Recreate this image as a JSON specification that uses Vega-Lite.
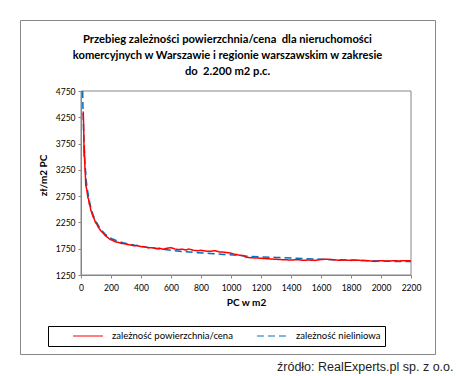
{
  "$schema": "https://vega.github.io/schema/vega-lite/v6.json",
  "width": 415,
  "height": 334,
  "autosize": "none",
  "padding": {"left": 20, "top": 20, "right": 21, "bottom": 22},
  "background": "white",
  "title": {
    "text": ["Przebieg zależności powierzchnia/cena\u00a0 dla nieruchomości", "komercyjnych w Warszawie i regionie warszawskim w zakresie", "do\u00a0 2.200 m2 p.c."],
    "orient": "top",
    "anchor": "middle",
    "frame": "group",
    "offset": -66,
    "baseline": "alphabetic",
    "font": "Lato",
    "fontSize": 11.2,
    "fontWeight": "bold",
    "lineHeight": 16,
    "color": "#000000"
  },
  "config": {
    "view": {"stroke": "#888888", "strokeWidth": 1},
    "axis": {"grid": false, "domainColor": "#868686", "tickColor": "#868686", "labelFont": "Lato", "labelFontSize": 8.5, "labelColor": "#000000", "titleFont": "Lato", "titleFontSize": 10, "titleFontWeight": "bold", "titleColor": "#000000"}
  },
  "datasets": {
    "lines": [
      {"series": "zależność nieliniowa", "x": 11, "y": 4750},
      {"series": "zależność nieliniowa", "x": 13, "y": 4450},
      {"series": "zależność nieliniowa", "x": 15, "y": 4250},
      {"series": "zależność nieliniowa", "x": 18, "y": 3950},
      {"series": "zależność nieliniowa", "x": 21, "y": 3700},
      {"series": "zależność nieliniowa", "x": 25, "y": 3450},
      {"series": "zależność nieliniowa", "x": 30, "y": 3250},
      {"series": "zależność nieliniowa", "x": 35, "y": 3050},
      {"series": "zależność nieliniowa", "x": 40, "y": 2920},
      {"series": "zależność nieliniowa", "x": 50, "y": 2750},
      {"series": "zależność nieliniowa", "x": 60, "y": 2600},
      {"series": "zależność nieliniowa", "x": 70, "y": 2480},
      {"series": "zależność nieliniowa", "x": 85, "y": 2360},
      {"series": "zależność nieliniowa", "x": 100, "y": 2270},
      {"series": "zależność nieliniowa", "x": 120, "y": 2170},
      {"series": "zależność nieliniowa", "x": 140, "y": 2090},
      {"series": "zależność nieliniowa", "x": 160, "y": 2030},
      {"series": "zależność nieliniowa", "x": 185, "y": 1975},
      {"series": "zależność nieliniowa", "x": 210, "y": 1935},
      {"series": "zależność nieliniowa", "x": 240, "y": 1900},
      {"series": "zależność nieliniowa", "x": 280, "y": 1865},
      {"series": "zależność nieliniowa", "x": 320, "y": 1838},
      {"series": "zależność nieliniowa", "x": 360, "y": 1815},
      {"series": "zależność nieliniowa", "x": 400, "y": 1795},
      {"series": "zależność nieliniowa", "x": 450, "y": 1775},
      {"series": "zależność nieliniowa", "x": 500, "y": 1755},
      {"series": "zależność nieliniowa", "x": 560, "y": 1735},
      {"series": "zależność nieliniowa", "x": 620, "y": 1712},
      {"series": "zależność nieliniowa", "x": 700, "y": 1692},
      {"series": "zależność nieliniowa", "x": 780, "y": 1675},
      {"series": "zależność nieliniowa", "x": 860, "y": 1660},
      {"series": "zależność nieliniowa", "x": 950, "y": 1640},
      {"series": "zależność nieliniowa", "x": 1040, "y": 1625},
      {"series": "zależność nieliniowa", "x": 1120, "y": 1605},
      {"series": "zależność nieliniowa", "x": 1200, "y": 1595},
      {"series": "zależność nieliniowa", "x": 1300, "y": 1585},
      {"series": "zależność nieliniowa", "x": 1400, "y": 1572},
      {"series": "zależność nieliniowa", "x": 1500, "y": 1560},
      {"series": "zależność nieliniowa", "x": 1600, "y": 1550},
      {"series": "zależność nieliniowa", "x": 1700, "y": 1540},
      {"series": "zależność nieliniowa", "x": 1800, "y": 1533},
      {"series": "zależność nieliniowa", "x": 1900, "y": 1525},
      {"series": "zależność nieliniowa", "x": 2000, "y": 1515},
      {"series": "zależność nieliniowa", "x": 2100, "y": 1508},
      {"series": "zależność nieliniowa", "x": 2200, "y": 1505},
      {"series": "zależność powierzchnia/cena", "x": 15, "y": 4360},
      {"series": "zależność powierzchnia/cena", "x": 17, "y": 4150},
      {"series": "zależność powierzchnia/cena", "x": 19, "y": 3900},
      {"series": "zależność powierzchnia/cena", "x": 20, "y": 3500},
      {"series": "zależność powierzchnia/cena", "x": 22, "y": 3720},
      {"series": "zależność powierzchnia/cena", "x": 24, "y": 3450},
      {"series": "zależność powierzchnia/cena", "x": 27, "y": 3250},
      {"series": "zależność powierzchnia/cena", "x": 29, "y": 3150},
      {"series": "zależność powierzchnia/cena", "x": 32, "y": 2950},
      {"series": "zależność powierzchnia/cena", "x": 35, "y": 2920},
      {"series": "zależność powierzchnia/cena", "x": 38, "y": 2880},
      {"series": "zależność powierzchnia/cena", "x": 42, "y": 2800},
      {"series": "zależność powierzchnia/cena", "x": 46, "y": 2720},
      {"series": "zależność powierzchnia/cena", "x": 50, "y": 2700},
      {"series": "zależność powierzchnia/cena", "x": 55, "y": 2600},
      {"series": "zależność powierzchnia/cena", "x": 60, "y": 2570},
      {"series": "zależność powierzchnia/cena", "x": 65, "y": 2490},
      {"series": "zależność powierzchnia/cena", "x": 72, "y": 2430},
      {"series": "zależność powierzchnia/cena", "x": 80, "y": 2360},
      {"series": "zależność powierzchnia/cena", "x": 88, "y": 2320},
      {"series": "zależność powierzchnia/cena", "x": 96, "y": 2250},
      {"series": "zależność powierzchnia/cena", "x": 105, "y": 2220},
      {"series": "zależność powierzchnia/cena", "x": 115, "y": 2160},
      {"series": "zależność powierzchnia/cena", "x": 125, "y": 2120},
      {"series": "zależność powierzchnia/cena", "x": 135, "y": 2080},
      {"series": "zależność powierzchnia/cena", "x": 150, "y": 2040},
      {"series": "zależność powierzchnia/cena", "x": 165, "y": 1990},
      {"series": "zależność powierzchnia/cena", "x": 180, "y": 1960},
      {"series": "zależność powierzchnia/cena", "x": 195, "y": 1925},
      {"series": "zależność powierzchnia/cena", "x": 210, "y": 1910},
      {"series": "zależność powierzchnia/cena", "x": 230, "y": 1880},
      {"series": "zależność powierzchnia/cena", "x": 250, "y": 1870},
      {"series": "zależność powierzchnia/cena", "x": 270, "y": 1850},
      {"series": "zależność powierzchnia/cena", "x": 290, "y": 1845},
      {"series": "zależność powierzchnia/cena", "x": 310, "y": 1830},
      {"series": "zależność powierzchnia/cena", "x": 330, "y": 1822},
      {"series": "zależność powierzchnia/cena", "x": 350, "y": 1805},
      {"series": "zależność powierzchnia/cena", "x": 375, "y": 1810},
      {"series": "zależność powierzchnia/cena", "x": 400, "y": 1790},
      {"series": "zależność powierzchnia/cena", "x": 425, "y": 1785},
      {"series": "zależność powierzchnia/cena", "x": 450, "y": 1765},
      {"series": "zależność powierzchnia/cena", "x": 475, "y": 1770},
      {"series": "zależność powierzchnia/cena", "x": 500, "y": 1755},
      {"series": "zależność powierzchnia/cena", "x": 525, "y": 1758},
      {"series": "zależność powierzchnia/cena", "x": 550, "y": 1740},
      {"series": "zależność powierzchnia/cena", "x": 575, "y": 1760},
      {"series": "zależność powierzchnia/cena", "x": 600, "y": 1770},
      {"series": "zależność powierzchnia/cena", "x": 625, "y": 1745},
      {"series": "zależność powierzchnia/cena", "x": 650, "y": 1735},
      {"series": "zależność powierzchnia/cena", "x": 680, "y": 1740},
      {"series": "zależność powierzchnia/cena", "x": 700, "y": 1725},
      {"series": "zależność powierzchnia/cena", "x": 720, "y": 1745},
      {"series": "zależność powierzchnia/cena", "x": 750, "y": 1720},
      {"series": "zależność powierzchnia/cena", "x": 780, "y": 1710},
      {"series": "zależność powierzchnia/cena", "x": 800, "y": 1720},
      {"series": "zależność powierzchnia/cena", "x": 830, "y": 1705},
      {"series": "zależność powierzchnia/cena", "x": 860, "y": 1700},
      {"series": "zależność powierzchnia/cena", "x": 890, "y": 1712},
      {"series": "zależność powierzchnia/cena", "x": 920, "y": 1690},
      {"series": "zależność powierzchnia/cena", "x": 950, "y": 1685},
      {"series": "zależność powierzchnia/cena", "x": 980, "y": 1675},
      {"series": "zależność powierzchnia/cena", "x": 1000, "y": 1665},
      {"series": "zależność powierzchnia/cena", "x": 1020, "y": 1650},
      {"series": "zależność powierzchnia/cena", "x": 1050, "y": 1630},
      {"series": "zależność powierzchnia/cena", "x": 1080, "y": 1620},
      {"series": "zależność powierzchnia/cena", "x": 1100, "y": 1590},
      {"series": "zależność powierzchnia/cena", "x": 1130, "y": 1578},
      {"series": "zależność powierzchnia/cena", "x": 1160, "y": 1575},
      {"series": "zależność powierzchnia/cena", "x": 1200, "y": 1568},
      {"series": "zależność powierzchnia/cena", "x": 1240, "y": 1560},
      {"series": "zależność powierzchnia/cena", "x": 1280, "y": 1552},
      {"series": "zależność powierzchnia/cena", "x": 1320, "y": 1545},
      {"series": "zależność powierzchnia/cena", "x": 1360, "y": 1540},
      {"series": "zależność powierzchnia/cena", "x": 1400, "y": 1535},
      {"series": "zależność powierzchnia/cena", "x": 1440, "y": 1542},
      {"series": "zależność powierzchnia/cena", "x": 1480, "y": 1530},
      {"series": "zależność powierzchnia/cena", "x": 1520, "y": 1535},
      {"series": "zależność powierzchnia/cena", "x": 1560, "y": 1528},
      {"series": "zależność powierzchnia/cena", "x": 1600, "y": 1545},
      {"series": "zależność powierzchnia/cena", "x": 1640, "y": 1550},
      {"series": "zależność powierzchnia/cena", "x": 1680, "y": 1540},
      {"series": "zależność powierzchnia/cena", "x": 1720, "y": 1530},
      {"series": "zależność powierzchnia/cena", "x": 1760, "y": 1535},
      {"series": "zależność powierzchnia/cena", "x": 1800, "y": 1528},
      {"series": "zależność powierzchnia/cena", "x": 1840, "y": 1532},
      {"series": "zależność powierzchnia/cena", "x": 1880, "y": 1525},
      {"series": "zależność powierzchnia/cena", "x": 1920, "y": 1520},
      {"series": "zależność powierzchnia/cena", "x": 1960, "y": 1508},
      {"series": "zależność powierzchnia/cena", "x": 2000, "y": 1522},
      {"series": "zależność powierzchnia/cena", "x": 2040, "y": 1515},
      {"series": "zależność powierzchnia/cena", "x": 2080, "y": 1520},
      {"series": "zależność powierzchnia/cena", "x": 2120, "y": 1518},
      {"series": "zależność powierzchnia/cena", "x": 2160, "y": 1522},
      {"series": "zależność powierzchnia/cena", "x": 2200, "y": 1518}
    ]
  },
  "layer": [
    {
      "data": {"values": [{}]},
      "mark": {"type": "rect", "fill": null, "stroke": "#868686", "strokeWidth": 1},
      "encoding": {
        "x": {"datum": 0, "type": "quantitative", "scale": {"domain": [0, 2200], "range": [61, 391], "nice": false, "zero": false},
          "axis": {"orient": "bottom", "offset": 6, "domain": false, "ticks": false, "labels": false, "title": "źródło: RealExperts.pl sp. z o.o.", "titleFont": "Liberation Sans", "titleFontSize": 12.5, "titleFontWeight": "normal", "titleColor": "#222222", "titleBaseline": "top", "titlePadding": 0, "titleX": 433, "titleY": 0, "titleAlign": "right", "titleAnchor": "end"}},
        "x2": {"datum": 2200},
        "y": {"datum": 1250, "type": "quantitative", "scale": {"domain": [1250, 4750], "range": [255, 71], "nice": false, "zero": false},
          "axis": {"orient": "left", "offset": -61, "tickSize": 3, "labelPadding": 3, "titlePadding": 7, "titleY": 155, "values": [1250, 1750, 2250, 2750, 3250, 3750, 4250, 4750], "format": "d", "title": "zł/m2 PC", "labelFlush": false}},
        "y2": {"datum": 4750}
      }
    },
    {
      "data": {"name": "lines"},
      "mark": {"type": "line", "strokeWidth": 1.5, "interpolate": "linear"},
      "encoding": {
        "x": {"field": "x", "type": "quantitative", "scale": {"domain": [0, 2200], "range": [61, 391], "nice": false, "zero": false},
          "axis": {"orient": "bottom", "offset": -79, "values": [0, 200, 400, 600, 800, 1000, 1200, 1400, 1600, 1800, 2000, 2200], "format": "d", "tickSize": 3, "labelPadding": 5, "labelFlush": false, "labelOverlap": false, "title": "PC w m2", "titlePadding": 6}},
        "y": {"field": "y", "type": "quantitative", "scale": {"domain": [1250, 4750], "range": [255, 71], "nice": false, "zero": false},
          "axis": {"orient": "left", "offset": -61, "tickSize": 3, "labelPadding": 3, "titlePadding": 7, "titleY": 155, "values": [1250, 1750, 2250, 2750, 3250, 3750, 4250, 4750], "format": "d", "title": "zł/m2 PC", "labelFlush": false}},
        "color": {"field": "series", "type": "nominal", "scale": {"domain": ["zależność powierzchnia/cena", "zależność nieliniowa"], "range": ["#FF0000", "#0070C0"]},
          "legend": {"orient": "none", "legendX": 28, "legendY": 306, "direction": "horizontal", "title": null, "strokeColor": "#000000", "padding": 4, "symbolType": "stroke", "symbolSize": 900, "symbolStrokeWidth": 1.2, "clipHeight": 12, "labelFont": "Lato", "labelFontSize": 9.5, "labelColor": "#000000", "labelOffset": 8, "columnPadding": 3, "symbolOffset": 20}},
        "strokeDash": {"field": "series", "type": "nominal", "scale": {"domain": ["zależność powierzchnia/cena", "zależność nieliniowa"], "range": [[1, 0], [7, 4]]}, "legend": {"orient": "none", "legendX": 28, "legendY": 306, "direction": "horizontal", "title": null, "strokeColor": "#000000", "padding": 4, "symbolType": "stroke", "symbolSize": 900, "symbolStrokeWidth": 1.2, "clipHeight": 12, "labelFont": "Lato", "labelFontSize": 9.5, "labelColor": "#000000", "labelOffset": 8, "columnPadding": 3, "symbolOffset": 20}},
        "order": {"field": "series", "sort": "ascending"}
      }
    }
  ],
  "resolve": {"scale": {"x": "independent"}, "axis": {"x": "independent"}}
}
